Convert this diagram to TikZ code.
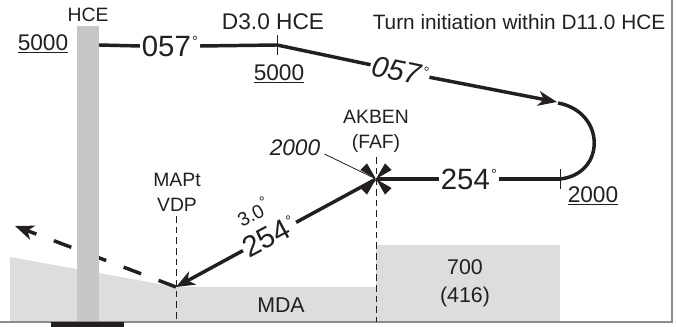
\documentclass[tikz,border=0pt]{standalone}
\usepackage{fontspec}
\setmainfont{Liberation Sans}
\usetikzlibrary{arrows.meta}
\definecolor{terrain}{HTML}{DCDDDF}
\definecolor{mast}{HTML}{C6C7C9}
\definecolor{inkblack}{HTML}{231F20}
\definecolor{frameline}{HTML}{8C8C8C}
\newcommand{\degsign}[1]{\kern1pt\smash{\raisebox{#1}{\fontsize{11}{11}\selectfont °}}}
\newcommand{\fafcross}[2]{%
 \node[inner sep=0pt,minimum size=1pt] ({#1}) at ({#2}) {};%
 \foreach \a in {45,135,225,315} {%
  \fill[inkblack] ({#2}) -- ++(\a-15:18) -- ++(\a+90:9.3) -- cycle;%
 }%
}
\tikzset{
 label/.style={inner sep=0pt,text=inkblack,font=\fontsize{14.5}{18.75}\selectfont,align=center},
 figure/.style={inner sep=0pt,text=inkblack,font=\fontsize{17}{21}\selectfont,align=center},
 bearing/.style={inner sep=0pt,outer sep=1.5pt,text=inkblack,font=\fontsize{22}{24}\selectfont},
 track/.style={draw=inkblack,line width=2.6pt},
 tick/.style={draw=inkblack,line width=.6pt},
 guide/.style={draw=inkblack,line width=.6pt,dash pattern=on 5pt off 3pt},
 tip/.style={-{Stealth[length=14pt,width=11pt,inset=4pt]}},
}
\begin{document}
\begin{tikzpicture}[x=.75pt,y=-.75pt]
 \useasboundingbox (0,0) rectangle (676,327);
 % points
 \coordinate (mastside) at (99,45);
 \coordinate (dthree) at (277,45);
 \coordinate (turnin) at (557,102);
 \coordinate (turnstart) at (558,103);
 \coordinate (turnend) at (560,179);
 \coordinate (mapt) at (176,287);
 \coordinate (missed) at (15,226);
 \coordinate (maptfoot) at (176,322);
 \coordinate (maptup) at (176,216);
 \coordinate (faffoot) at (376,322);
 \coordinate (fafup) at (376,157);
 \coordinate (dup) at (277,35);
 \coordinate (ddown) at (277,55);
 \coordinate (turnup) at (560,169);
 \coordinate (turndown) at (560,189);
 % terrain, missed approach and mast
 \fill[terrain] (10,257) -- (176,287) -- (376,287) -- (376,245) -- (560,245) -- (560,322) -- (10,322) -- cycle;
 \draw[track,tip,dash pattern=on 14pt off 14pt] (mapt) -- (missed);
 \fill[mast] (77,26) rectangle (99,322);
 \draw[frameline,line width=1.1pt] (0,322) -- (672,322) -- (672,0);
 \fill[inkblack] (51,322) rectangle (124,327);
 \fafcross{faf}{376,179}
 % labels
 \node[label] (hce) at (88,15) {HCE};
 \node[figure] (alta) at (43,44) {\underline{5000}};
 \node[figure] (dme) at (273,22) {D3.0 HCE};
 \node[figure] (altb) at (279,74) {\underline{5000}};
 \node[label,font=\fontsize{15.6}{18}\selectfont] (turnnote) at (519,22) {Turn initiation within D11.0 HCE};
 \node[label] (akben) at (376,131) {AKBEN\\(FAF)};
 \node[figure,font=\fontsize{17}{21}\selectfont\itshape] (altfaf) at (295,148) {2000};
 \node[label] (vdp) at (177,192) {MAPt\\VDP};
 \node[figure] (altc) at (593,196) {\underline{2000}};
 \node[figure,font=\fontsize{16}{21}\selectfont] (mda) at (281,305) {MDA};
 \node[figure,font=\fontsize{16}{21}\selectfont] (oca) at (465,283) {700\\(416)};
 \node[bearing] (brga) at (170,46) {057\degsign{7pt}};
 \node[bearing,font=\fontsize{22}{24}\selectfont\itshape,rotate=-12] (brgb) at (400,71) {057\degsign{7pt}};
 \node[bearing] (brgc) at (469,179) {254\degsign{7pt}};
 \node[bearing,rotate=28] (brgd) at (269.5,236.5) {254\degsign{7pt}};
 \node[label,rotate=28] (slope) at (254,214) {3.0\degsign{6pt}};
 % tracks
 \draw[track] (mastside) -- (brga.west);
 \draw[track] (brga.east) -- (dthree);
 \draw[track] (dthree) -- (brgb.west);
 \draw[track,tip] (brgb.east) -- (turnin);
 \draw[track] (turnstart) .. controls (606,112) and (606,174) .. (turnend);
 \draw[track] (turnend) -- (brgc.east);
 \draw[track] (brgc.west) -- (faf);
 \draw[track] (faf) -- (brgd.east);
 \draw[track,tip] (brgd.west) -- (mapt);
 % ticks and guides
 \draw[tick] (dup) -- (ddown);
 \draw[tick] (turnup) -- (turndown);
 \draw[tick] (altfaf.east) ++(4,6) -- (faf);
 \draw[guide] (maptup) -- (maptfoot);
 \draw[guide] (fafup) -- (faffoot);
\end{tikzpicture}
\end{document}
